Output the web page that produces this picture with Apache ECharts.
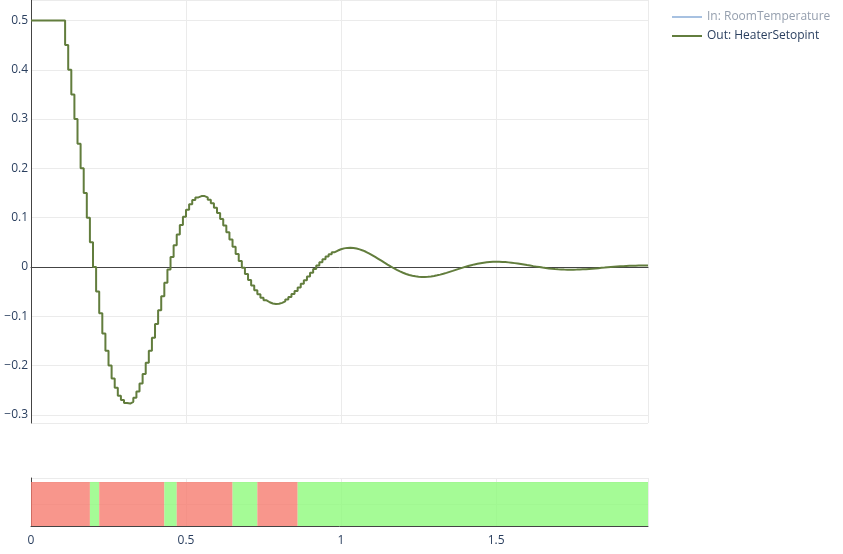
<!DOCTYPE html>
<html>
<head>
<meta charset="utf-8">
<script src="https://cdn.jsdelivr.net/npm/echarts@6/dist/echarts.min.js"></script>
<style>
html,body{margin:0;padding:0;background:#fff;}
#chart{width:843px;height:554px;}
</style>
</head>
<body>
<div id="chart"></div>
<script>
// sample times (s)
const times = [
0.00,0.01,0.02,0.03,0.04,0.05,0.06,0.07,0.08,0.09,
0.10,0.11,0.12,0.13,0.14,0.15,0.16,0.17,0.18,0.19,
0.20,0.21,0.22,0.23,0.24,0.25,0.26,0.27,0.28,0.29,
0.30,0.31,0.32,0.33,0.34,0.35,0.36,0.37,0.38,0.39,
0.40,0.41,0.42,0.43,0.44,0.45,0.46,0.47,0.48,0.49,
0.50,0.51,0.52,0.53,0.54,0.55,0.56,0.57,0.58,0.59,
0.60,0.61,0.62,0.63,0.64,0.65,0.66,0.67,0.68,0.69,
0.70,0.71,0.72,0.73,0.74,0.75,0.76,0.77,0.78,0.79,
0.80,0.81,0.82,0.83,0.84,0.85,0.86,0.87,0.88,0.89,
0.90,0.91,0.92,0.93,0.94,0.95,0.96,0.97,0.98,0.99,
1.00,1.01,1.02,1.03,1.04,1.05,1.06,1.07,1.08,1.09,
1.10,1.11,1.12,1.13,1.14,1.15,1.16,1.17,1.18,1.19,
1.20,1.21,1.22,1.23,1.24,1.25,1.26,1.27,1.28,1.29,
1.30,1.31,1.32,1.33,1.34,1.35,1.36,1.37,1.38,1.39,
1.40,1.41,1.42,1.43,1.44,1.45,1.46,1.47,1.48,1.49,
1.50,1.51,1.52,1.53,1.54,1.55,1.56,1.57,1.58,1.59,
1.60,1.61,1.62,1.63,1.64,1.65,1.66,1.67,1.68,1.69,
1.70,1.71,1.72,1.73,1.74,1.75,1.76,1.77,1.78,1.79,
1.80,1.81,1.82,1.83,1.84,1.85,1.86,1.87,1.88,1.89,
1.90,1.91,1.92,1.93,1.94,1.95,1.96,1.97,1.98,1.99
];
// Out: HeaterSetopint values
const heaterSetpoint = [
0.5,0.5,0.5,0.5,0.5,0.5,0.5,0.5,0.5,0.5,
0.5,0.45,0.40,0.35,0.30,0.25,0.20,0.15,0.10,0.05,
0.00,-0.05,-0.094,-0.135,-0.170,-0.200,-0.226,-0.245,-0.261,-0.270,
-0.276,-0.277,-0.2735,-0.2653,-0.2528,-0.2366,-0.2170,-0.1945,-0.1698,-0.1434,
-0.1159,-0.0877,-0.0595,-0.0318,-0.0050,0.0204,0.0442,0.0658,0.0852,0.1019,
0.1160,0.1272,0.1356,0.1411,0.1438,0.1438,0.1412,0.1362,0.1291,0.1201,
0.1094,0.0973,0.0842,0.0702,0.0558,0.0411,0.0265,0.0122,-0.0016,-0.0145,
-0.0266,-0.0375,-0.0471,-0.0554,-0.0623,-0.0677,-0.0716,-0.0740,-0.0749,-0.0745,
-0.0728,-0.0699,-0.0658,-0.0608,-0.0550,-0.0486,-0.0416,-0.0342,-0.0267,-0.0191,
-0.0115,-0.0041,0.0029,0.0095,0.0156,0.0211,0.0259,0.0300,0.0333,0.0359,
0.0377,0.0387,0.0390,0.0385,0.0374,0.0357,0.0335,0.0308,0.0276,0.0242,
0.0205,0.0166,0.0127,0.0087,0.0048,0.0010,-0.0026,-0.0060,-0.0090,-0.0118,
-0.0142,-0.0162,-0.0178,-0.0190,-0.0198,-0.0202,-0.0203,-0.0199,-0.0192,-0.0183,
-0.0170,-0.0155,-0.0138,-0.0120,-0.0100,-0.0080,-0.0059,-0.0039,-0.0019,0.0001,
0.0019,0.0036,0.0052,0.0065,0.0077,0.0087,0.0095,0.0100,0.0104,0.0106,
0.0105,0.0103,0.0099,0.0093,0.0086,0.0078,0.0069,0.0059,0.0049,0.0038,
0.0028,0.0017,0.0007,-0.0003,-0.0013,-0.0021,-0.0029,-0.0036,-0.0042,-0.0047,
-0.0050,-0.0053,-0.0054,-0.0055,-0.0054,-0.0053,-0.0051,-0.0047,-0.0044,-0.0039,
-0.0034,-0.0029,-0.0024,-0.0018,-0.0013,-0.0007,-0.0002,0.0003,0.0008,0.0012,
0.0016,0.0020,0.0023,0.0025,0.0027,0.0028,0.0028,0.0029,0.0028,0.0027
];
// status strip
const bandStart = [0, 0.19, 0.22, 0.43, 0.47, 0.65, 0.73, 0.86];
const bandEnd   = [0.19, 0.22, 0.43, 0.47, 0.65, 0.73, 0.86, 1.99];
const bandState = [0, 1, 0, 1, 0, 1, 0, 1]; // 0 = red, 1 = green

const seriesNames = ['In: RoomTemperature', 'Out: HeaterSetopint'];

const FONT = '"Open Sans", verdana, arial, sans-serif';
const TXT = '#2a3f5f';
const GRID = '#ebebeb';

const lineData = times.map((t, i) => [t, heaterSetpoint[i]]);
const bandData = bandStart.map((s, i) => [s, bandEnd[i], bandState[i]]);
const fmt = v => {
  const r = Math.round(v * 100) / 100;
  return r < 0 ? '\u2212' + String(Math.abs(r)) : String(r);
};

const chart = echarts.init(document.getElementById('chart'), null, {renderer: 'canvas'});
chart.setOption({
  animation: false,
  backgroundColor: '#ffffff',
  textStyle: {fontFamily: FONT},
  legend: {
    orient: 'vertical',
    left: 667,
    top: 6,
    itemWidth: 30,
    itemHeight: 2,
    itemGap: 7,
    icon: 'rect',
    textStyle: {fontFamily: FONT, fontSize: 12, color: TXT},
    selectedMode: false,
    data: [
      {name: seriesNames[0], textStyle: {color: '#959fae'}, itemStyle: {color: '#a7c1e1'}},
      {name: seriesNames[1]}
    ]
  },
  grid: [
    {left: 31, top: 0, width: 617, height: 423, containLabel: false},
    {left: 31, top: 478, width: 617, height: 48, containLabel: false}
  ],
  xAxis: [
    {
      gridIndex: 0, type: 'value', min: 0, max: 1.99, interval: 0.5,
      axisLine: {show: true, onZero: true, lineStyle: {color: '#444', width: 1}},
      axisTick: {show: false}, axisLabel: {show: false},
      splitLine: {show: true, lineStyle: {color: GRID, width: 1}}
    },
    {
      gridIndex: 1, type: 'value', min: 0, max: 1.99, interval: 0.5,
      axisLine: {show: true, onZero: false, lineStyle: {color: '#444', width: 1}},
      axisTick: {show: false},
      axisLabel: {show: true, color: TXT, fontSize: 12, fontFamily: FONT, margin: 9,
                  formatter: fmt, showMaxLabel: false},
      splitLine: {show: true, lineStyle: {color: GRID, width: 1}}
    }
  ],
  yAxis: [
    {
      gridIndex: 0, type: 'value', min: -0.3165, max: 0.5415, splitNumber: 8,
      axisLine: {show: true, onZero: false, lineStyle: {color: '#444', width: 1}},
      axisTick: {show: false},
      axisLabel: {show: true, color: TXT, fontSize: 12, fontFamily: FONT, margin: 3,
                  formatter: fmt, showMinLabel: false, showMaxLabel: false},
      splitLine: {show: true, lineStyle: {color: GRID, width: 1}}
    },
    {
      gridIndex: 1, type: 'value', min: 0, max: 1.09, interval: 0.5,
      axisLine: {show: true, onZero: false, lineStyle: {color: '#444', width: 1}},
      axisTick: {show: false}, axisLabel: {show: false},
      splitLine: {show: true, lineStyle: {color: GRID, width: 1}}
    }
  ],
  series: [
    {
      name: seriesNames[0], type: 'line', xAxisIndex: 0, yAxisIndex: 0,
      data: [], showSymbol: false, color: '#a7c1e1',
      lineStyle: {color: '#a7c1e1', width: 2}
    },
    {
      name: seriesNames[1], type: 'line', xAxisIndex: 0, yAxisIndex: 0,
      data: lineData, step: 'end', showSymbol: false, symbol: 'none',
      color: '#627d3d',
      lineStyle: {color: '#627d3d', width: 2},
      z: 3
    },
    {
      name: 'status', type: 'custom', xAxisIndex: 1, yAxisIndex: 1,
      data: bandData,
      encode: {x: [0, 1]},
      renderItem: function (params, api) {
        const p0 = api.coord([api.value(0), 1]);
        const p1 = api.coord([api.value(1), 0]);
        const green = api.value(2) === 1;
        return {
          type: 'rect',
          shape: {x: p0[0], y: p0[1], width: p1[0] - p0[0], height: p1[1] - p0[1]},
          style: {fill: green ? 'rgba(140,250,120,0.78)' : 'rgba(246,120,107,0.78)'}
        };
      },
      z: 1
    }
  ]
});
</script>
</body>
</html>
